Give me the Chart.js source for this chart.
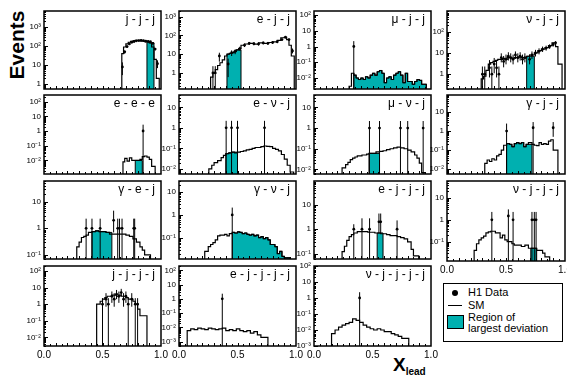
<!DOCTYPE html>
<html><head><meta charset="utf-8">
<script src="https://cdn.jsdelivr.net/npm/chart.js@4.4.0/dist/chart.umd.min.js"></script>
<style>
html,body{margin:0;padding:0;background:#fff;width:567px;height:381px;overflow:hidden;position:relative;font-family:"Liberation Sans",Arial,sans-serif;}
canvas{position:absolute;}
#ev{position:absolute;left:-18px;top:33px;width:70px;height:24px;line-height:24px;text-align:center;transform:rotate(-90deg);font:bold 21px "Liberation Sans",Arial,sans-serif;}
#xl{position:absolute;left:393px;top:354px;font:bold 19px "Liberation Sans",Arial,sans-serif;}
#xl sub{font-size:10px;vertical-align:-4px;}
#leg{position:absolute;left:443px;top:283px;width:118px;height:57px;border:1px solid #000;font:11px "Liberation Sans",Arial,sans-serif;}
#leg .t{position:absolute;left:24px;white-space:nowrap;}
</style></head><body>
<div id="ev">Events</div>
<div id="xl">X<sub>lead</sub></div>
<div id="leg">
  <div style="position:absolute;left:8px;top:6px;width:6px;height:6px;border-radius:50%;background:#000"></div>
  <div class="t" style="top:2px">H1 Data</div>
  <div style="position:absolute;left:4px;top:21px;width:14px;height:1px;background:#000"></div>
  <div class="t" style="top:15px">SM</div>
  <div style="position:absolute;left:3px;top:31px;width:15px;height:12px;border:1px solid #000;background:#00B0B0"></div>
  <div class="t" style="top:28px;line-height:11px">Region of<br>largest deviation</div>
</div>
<script>
// ---------- tick labels ----------
const yTickExp = [-3,-2,-1,0,1,2,3];
const yTickLabels = ['10⁻³','10⁻²','10⁻¹','1','10','10²','10³'];
const xTickVals = [0,0.5,1];
const xTickLabels = ['0.0','0.5','1.0'];

// ---------- j-j-j ----------
const jjj_edges = [0.665,0.68,0.70,0.72,0.74,0.76,0.78,0.80,0.82,0.84,0.86,0.88,0.90,0.92,0.94,0.96,0.975,0.985];
const jjj_sm = [2,40,90,130,160,180,190,200,200,190,180,170,175,150,90,20,2];
const jjj_region = [0.88,0.94];
const jjj_dx = [0.67,0.69,0.71,0.73,0.75,0.77,0.79,0.81,0.83,0.85,0.87,0.89,0.91,0.93,0.95,0.97];
const jjj_dy = [8,50,95,130,160,175,190,195,200,195,180,175,170,140,70,12];
const jjj_lo = [3,40,80,115,145,160,174,180,185,180,165,160,155,125,60,7];
const jjj_hi = [14,60,110,145,175,190,206,210,215,210,195,190,185,155,80,18];
const jjj_yrange = [0.56,7000];

// ---------- e-j-j ----------
const ejj_edges = [0.27,0.29,0.31,0.33,0.35,0.37,0.39,0.41,0.43,0.45,0.47,0.49,0.51,0.53,0.56,0.60,0.64,0.68,0.72,0.76,0.80,0.84,0.87,0.90,0.92,0.94,0.96,0.975,0.985];
const ejj_sm = [0.3,0.6,1,1.5,2.5,3.5,5,8,10,11,12,14,17,20,30,35,38,34,40,38,42,45,55,75,80,60,30,8];
const ejj_region = [0.41,0.53];
const ejj_dx = [0.29,0.31,0.345,0.42,0.45,0.48,0.52,0.56,0.60,0.64,0.68,0.72,0.76,0.80,0.84,0.88,0.91,0.94,0.97];
const ejj_dy = [1,1,8,3,12,14,20,30,38,36,35,40,38,42,46,60,80,60,15];
const ejj_lo = [0.05,0.05,4,0.6,8,10,15,24,31,30,29,33,31,35,39,52,71,52,11];
const ejj_hi = [2.3,2.3,12,5.8,16,18,25,36,45,42,41,47,45,49,53,68,89,68,20];
const ejj_yrange = [0.14,2000];

// ---------- mu-j-j ----------
const mjj_edges = [0.30,0.32,0.34,0.36,0.38,0.40,0.42,0.44,0.46,0.48,0.50,0.52,0.54,0.56,0.58,0.60,0.62,0.64,0.66,0.68,0.70,0.72,0.74,0.76,0.78,0.80,0.82,0.84,0.86,0.88,0.90,0.92,0.94,0.96];
const mjj_sm = [0.0024,0.003,0.02,0.015,0.01,0.008,0.01,0.008,0.012,0.01,0.015,0.02,0.015,0.025,0.03,0.02,0.005,0.01,0.012,0.008,0.015,0.02,0.025,0.015,0.005,0.02,0.006,0.006,0.004,0.006,0.008,0.007,0.004];
const mjj_region = [0.34,0.96];
const mjj_dx = [0.34];
const mjj_dy = [1];
const mjj_lo = [0.0001];
const mjj_hi = [2.2];
const mjj_yrange = [0.002,180];

// ---------- nu-j-j ----------
const njj_edges = [0.29,0.31,0.33,0.35,0.37,0.39,0.41,0.43,0.45,0.47,0.49,0.51,0.53,0.55,0.57,0.59,0.61,0.63,0.65,0.675,0.70,0.74,0.77,0.80,0.83,0.86,0.89,0.92,0.94,0.96,0.975];
const njj_sm = [0.4,0.6,0.8,1.5,3,3.5,4,4.5,5,5,5.5,5,6,6,5.5,6,6,6.5,6,6,7,8,10,13,15,18,22,30,20,3];
const njj_region = [0.675,0.74];
const njj_dx = [0.30,0.32,0.36,0.38,0.40,0.42,0.44,0.46,0.48,0.50,0.52,0.54,0.56,0.58,0.60,0.62,0.64,0.66,0.70,0.72,0.75,0.78,0.81,0.84,0.87,0.90,0.92];
const njj_dy = [1,1,2,1,3,2,1,6,4,5,7,6,5,8,6,7,5,6,5,8,10,12,15,17,20,25,30];
const njj_lo = [0.05,0.05,0.7,0.05,1.1,0.7,0.05,3.6,2.1,2.9,4.4,3.6,2.9,5.2,3.6,4.4,2.9,3.6,2.9,5.2,6.8,8.6,11.1,12.9,15.5,20,24.5];
const njj_hi = [2.3,2.3,4.6,2.3,5.8,4.6,2.3,9.6,7.2,8.4,10.8,9.6,8.4,11.8,9.6,10.8,8.4,9.6,8.4,11.8,14,16.5,20,22,25.6,31,36];
const njj_yrange = [0.2,950];

// ---------- e-e-e ----------
const eee_edges = [0.675,0.69,0.71,0.73,0.75,0.77,0.78,0.80,0.82,0.84,0.86,0.88,0.90,0.92,0.94,0.95];
const eee_sm = [0.003,0.008,0.014,0.009,0.015,0.01,0.01,0.01,0.01,0.012,0.018,0.02,0.017,0.012,0.004];
const eee_region = [0.78,0.84];
const eee_dx = [0.847];
const eee_dy = [1];
const eee_lo = [0.0001];
const eee_hi = [2.7];
const eee_yrange = [0.0012,280];

// ---------- e-nu-j ----------
const enj_edges = [0.255,0.28,0.30,0.33,0.36,0.38,0.40,0.425,0.45,0.475,0.50,0.525,0.55,0.575,0.60,0.625,0.65,0.675,0.70,0.725,0.75,0.775,0.80,0.825,0.85,0.875,0.90,0.925,0.95,0.965,0.98];
const enj_sm = [0.007,0.01,0.015,0.02,0.025,0.035,0.045,0.055,0.06,0.065,0.06,0.065,0.07,0.075,0.085,0.09,0.1,0.11,0.11,0.12,0.13,0.125,0.12,0.1,0.09,0.075,0.05,0.03,0.015,0.007];
const enj_region = [0.40,0.50];
const enj_dx = [0.403,0.449,0.50,0.731];
const enj_dy = [1,1,1,1];
const enj_lo = [0.0001,0.0001,0.0001,0.0001];
const enj_hi = [2.2,2.2,2.2,2.2];
const enj_yrange = [0.0056,40];

// ---------- mu-nu-j ----------
const mnj_edges = [0.24,0.27,0.29,0.31,0.33,0.35,0.37,0.39,0.41,0.43,0.45,0.47,0.50,0.53,0.56,0.59,0.62,0.65,0.68,0.71,0.74,0.77,0.80,0.83,0.86,0.88,0.90,0.92,0.935,0.95];
const mnj_sm = [0.007,0.012,0.017,0.022,0.03,0.035,0.04,0.045,0.045,0.05,0.05,0.055,0.06,0.06,0.07,0.075,0.08,0.09,0.1,0.11,0.12,0.11,0.1,0.085,0.07,0.05,0.035,0.02,0.007];
const mnj_region = [0.47,0.56];
const mnj_dx = [0.474,0.56,0.739,0.801,0.933];
const mnj_dy = [1,1,1,1,1];
const mnj_lo = [0.0001,0.0001,0.0001,0.0001,0.0001];
const mnj_hi = [2.2,2.2,2.2,2.2,2.2];
const mnj_yrange = [0.006,40];

// ---------- gamma-j-j ----------
const gjj_edges = [0.32,0.34,0.36,0.38,0.40,0.42,0.44,0.46,0.48,0.505,0.53,0.55,0.57,0.59,0.61,0.63,0.65,0.67,0.69,0.72,0.74,0.76,0.78,0.80,0.82,0.84,0.86,0.88,0.90,0.92,0.94];
const gjj_sm = [0.008,0.02,0.03,0.025,0.035,0.03,0.05,0.06,0.1,0.18,0.22,0.2,0.15,0.22,0.25,0.22,0.25,0.15,0.2,0.25,0.2,0.18,0.17,0.25,0.2,0.22,0.2,0.3,0.35,0.1];
const gjj_region = [0.505,0.72];
const gjj_dx = [0.505,0.73,0.90];
const gjj_dy = [1,1.5,1.5];
const gjj_lo = [0.0001,0.0001,0.5];
const gjj_hi = [2.5,3,3];
const gjj_yrange = [0.0055,80];

// ---------- gamma-e-j ----------
const gej_edges = [0.28,0.30,0.32,0.34,0.36,0.38,0.41,0.44,0.47,0.50,0.53,0.56,0.58,0.61,0.64,0.67,0.70,0.73,0.76,0.79,0.82,0.84,0.86,0.88,0.91];
const gej_sm = [0.1,0.2,0.3,0.45,0.5,0.55,0.7,0.75,0.8,0.75,0.75,0.7,0.6,0.6,0.6,0.6,0.6,0.55,0.5,0.4,0.3,0.2,0.15,0.1];
const gej_region = [0.41,0.58];
const gej_dx = [0.36,0.41,0.48,0.595,0.63,0.645,0.667,0.767,0.775];
const gej_dy = [1,1,1,2,1,1,1,1,1];
const gej_lo = [0.01,0.01,0.01,0.7,0.01,0.01,0.01,0.01,0.01];
const gej_hi = [2.3,2.3,2.3,4.6,2.3,2.3,2.3,2.3,2.3];
const gej_yrange = [0.07,60];

// ---------- gamma-nu-j ----------
const gnj_edges = [0.22,0.25,0.27,0.29,0.31,0.33,0.35,0.37,0.39,0.41,0.43,0.455,0.475,0.50,0.52,0.54,0.56,0.58,0.60,0.62,0.64,0.66,0.68,0.70,0.72,0.74,0.76,0.78,0.80,0.82,0.84,0.86,0.88,0.90,0.92,0.95];
const gnj_sm = [0.015,0.025,0.04,0.05,0.06,0.08,0.12,0.13,0.13,0.14,0.12,0.15,0.17,0.16,0.18,0.17,0.15,0.16,0.14,0.13,0.14,0.12,0.13,0.1,0.11,0.09,0.1,0.08,0.05,0.05,0.04,0.02,0.025,0.015,0.013];
const gnj_region = [0.455,0.95];
const gnj_dx = [0.455];
const gnj_dy = [1];
const gnj_lo = [0.001];
const gnj_hi = [2.1];
const gnj_yrange = [0.0115,31];

// ---------- e-j-j-j ----------
const e3j_edges = [0.24,0.26,0.28,0.30,0.32,0.34,0.37,0.40,0.43,0.46,0.49,0.52,0.54,0.57,0.59,0.62,0.65,0.68,0.71,0.74,0.77,0.80,0.83,0.85,0.87,0.895];
const e3j_sm = [0.07,0.12,0.2,0.35,0.5,0.6,0.7,0.8,0.8,0.8,0.75,0.75,0.7,0.7,0.65,0.65,0.6,0.55,0.55,0.5,0.45,0.4,0.3,0.15,0.08];
const e3j_region = [0.54,0.59];
const e3j_dx = [0.34,0.41,0.475,0.555,0.57,0.71];
const e3j_dy = [1,1,1,2,2,1];
const e3j_lo = [0.01,0.01,0.01,0.7,0.7,0.01];
const e3j_hi = [1.6,2.8,2.8,4.4,4.4,2.3];
const e3j_yrange = [0.06,95];

// ---------- nu-j-j-j ----------
const n3j_edges = [0.23,0.25,0.27,0.29,0.31,0.33,0.35,0.37,0.39,0.41,0.43,0.45,0.47,0.49,0.51,0.53,0.55,0.57,0.60,0.63,0.66,0.69,0.71,0.73,0.76,0.79,0.81,0.83,0.85,0.87];
const n3j_sm = [0.02,0.04,0.08,0.12,0.15,0.18,0.25,0.28,0.3,0.3,0.25,0.25,0.15,0.2,0.12,0.1,0.1,0.08,0.07,0.07,0.06,0.07,0.05,0.05,0.05,0.04,0.04,0.03,0.02];
const n3j_region = [0.71,0.76];
const n3j_dx = [0.38,0.52,0.56,0.72,0.74,0.755];
const n3j_dy = [1,1.5,1,1,1,1];
const n3j_lo = [0.001,0.001,0.001,0.001,0.001,0.001];
const n3j_hi = [2.3,3,2.3,2.3,2.3,2.3];
const n3j_yrange = [0.013,60];

// ---------- j-j-j-j ----------
const j4_edges = [0.45,0.48,0.50,0.52,0.54,0.56,0.58,0.60,0.62,0.64,0.66,0.68,0.70,0.72,0.74,0.76,0.78,0.80,0.82,0.85,0.88];
const j4_sm = [0.3,1,1.5,2,2.5,3,3,3.5,3.5,3,3.5,3,3,2.5,2,2,1.5,1,0.5,0.2];
const j4_region = [];
const j4_dx = [0.50,0.53,0.55,0.58,0.60,0.62,0.64,0.66,0.68,0.70,0.72,0.75,0.78,0.80];
const j4_dy = [1,2,1,3,2,4,3,5,2,3,1,2,1,1];
const j4_lo = [0.001,0.7,0.001,1.2,0.7,2,1.2,3,0.7,1.2,0.001,0.7,0.001,0.001];
const j4_hi = [2.3,4.6,2.3,5.8,4.6,7.2,5.8,8.4,4.6,5.8,2.3,4.6,2.3,2.3];
const j4_yrange = [0.003,200];

// ---------- e-j-j-j-j ----------
const e4j_edges = [0.07,0.10,0.13,0.16,0.19,0.22,0.25,0.28,0.31,0.34,0.37,0.40,0.43,0.46,0.49,0.52,0.55,0.58,0.61,0.64,0.67,0.70,0.73,0.76];
const e4j_sm = [0.004,0.006,0.008,0.007,0.009,0.008,0.007,0.009,0.008,0.007,0.008,0.009,0.006,0.007,0.006,0.008,0.006,0.005,0.006,0.004,0.005,0.003,0.002];
const e4j_region = [];
const e4j_dx = [0.37];
const e4j_dy = [1];
const e4j_lo = [0.00001];
const e4j_hi = [2.3];
const e4j_yrange = [0.0005,200];

// ---------- nu-j-j-j-j ----------
const n4j_edges = [0.15,0.18,0.21,0.24,0.27,0.30,0.33,0.36,0.39,0.42,0.45,0.48,0.51,0.54,0.57,0.60,0.63,0.66,0.69,0.72,0.75,0.78,0.81];
const n4j_sm = [0.003,0.006,0.01,0.015,0.02,0.025,0.03,0.05,0.04,0.03,0.02,0.015,0.012,0.01,0.012,0.01,0.008,0.008,0.006,0.005,0.004,0.003];
const n4j_region = [];
const n4j_dx = [0.39];
const n4j_dy = [1];
const n4j_lo = [0.00001];
const n4j_hi = [2.3];
const n4j_yrange = [0.001,100];

// ---------- layout (pixel frame of each grid cell) ----------
const COLS = [[44,161],[179,296],[314,431],[447,565]];
const ROWS = [[8,91],[92,176],[178,261],[263,346]];
const CYAN = '#00B0B0';

const panels = [
 {t:'j - j - j', c:0,r:0,e:jjj_edges,v:jjj_sm,reg:jjj_region,dx:jjj_dx,dy:jjj_dy,lo:jjj_lo,hi:jjj_hi,yr:jjj_yrange,xl:false},
 {t:'e - j - j', c:1,r:0,e:ejj_edges,v:ejj_sm,reg:ejj_region,dx:ejj_dx,dy:ejj_dy,lo:ejj_lo,hi:ejj_hi,yr:ejj_yrange,xl:false},
 {t:'μ - j - j', c:2,r:0,e:mjj_edges,v:mjj_sm,reg:mjj_region,dx:mjj_dx,dy:mjj_dy,lo:mjj_lo,hi:mjj_hi,yr:mjj_yrange,xl:false},
 {t:'ν - j - j', c:3,r:0,e:njj_edges,v:njj_sm,reg:njj_region,dx:njj_dx,dy:njj_dy,lo:njj_lo,hi:njj_hi,yr:njj_yrange,xl:false},
 {t:'e - e - e', c:0,r:1,e:eee_edges,v:eee_sm,reg:eee_region,dx:eee_dx,dy:eee_dy,lo:eee_lo,hi:eee_hi,yr:eee_yrange,xl:false},
 {t:'e - ν - j', c:1,r:1,e:enj_edges,v:enj_sm,reg:enj_region,dx:enj_dx,dy:enj_dy,lo:enj_lo,hi:enj_hi,yr:enj_yrange,xl:false},
 {t:'μ - ν - j', c:2,r:1,e:mnj_edges,v:mnj_sm,reg:mnj_region,dx:mnj_dx,dy:mnj_dy,lo:mnj_lo,hi:mnj_hi,yr:mnj_yrange,xl:false},
 {t:'γ - j - j', c:3,r:1,e:gjj_edges,v:gjj_sm,reg:gjj_region,dx:gjj_dx,dy:gjj_dy,lo:gjj_lo,hi:gjj_hi,yr:gjj_yrange,xl:false},
 {t:'γ - e - j', c:0,r:2,e:gej_edges,v:gej_sm,reg:gej_region,dx:gej_dx,dy:gej_dy,lo:gej_lo,hi:gej_hi,yr:gej_yrange,xl:false},
 {t:'γ - ν - j', c:1,r:2,e:gnj_edges,v:gnj_sm,reg:gnj_region,dx:gnj_dx,dy:gnj_dy,lo:gnj_lo,hi:gnj_hi,yr:gnj_yrange,xl:false},
 {t:'e - j - j - j', c:2,r:2,e:e3j_edges,v:e3j_sm,reg:e3j_region,dx:e3j_dx,dy:e3j_dy,lo:e3j_lo,hi:e3j_hi,yr:e3j_yrange,xl:false},
 {t:'ν - j - j - j', c:3,r:2,e:n3j_edges,v:n3j_sm,reg:n3j_region,dx:n3j_dx,dy:n3j_dy,lo:n3j_lo,hi:n3j_hi,yr:n3j_yrange,xl:true},
 {t:'j - j - j - j', c:0,r:3,e:j4_edges,v:j4_sm,reg:j4_region,dx:j4_dx,dy:j4_dy,lo:j4_lo,hi:j4_hi,yr:j4_yrange,xl:true},
 {t:'e - j - j - j - j', c:1,r:3,e:e4j_edges,v:e4j_sm,reg:e4j_region,dx:e4j_dx,dy:e4j_dy,lo:e4j_lo,hi:e4j_hi,yr:e4j_yrange,xl:true},
 {t:'ν - j - j - j - j', c:2,r:3,e:n4j_edges,v:n4j_sm,reg:n4j_region,dx:n4j_dx,dy:n4j_dy,lo:n4j_lo,hi:n4j_hi,yr:n4j_yrange,xl:true}
];

function histPts(edges, vals, floor, lo, hi){
  const pts = [];
  let started = false, lastI = -1;
  for (let i = 0; i < vals.length; i++) {
    const a = edges[i], b = edges[i+1];
    if (lo !== undefined && (a < lo - 1e-9 || b > hi + 1e-9)) continue;
    if (!started) { pts.push({x:a, y:floor}); started = true; }
    pts.push({x:a, y:vals[i]});
    lastI = i;
  }
  if (started) {
    pts.push({x:edges[lastI+1], y:vals[lastI]});
    pts.push({x:edges[lastI+1], y:floor});
  }
  return pts;
}

const framePlugin = {
  id:'frame',
  afterDraw(chart){
    const {ctx, chartArea:a, scales:{x,y}} = chart;
    const o = chart.options.plugins.frame;
    ctx.save();
    ctx.strokeStyle = '#000';
    ctx.lineWidth = 1;
    ctx.beginPath();
    for (let k = 1; k < 20; k++) {
      const px = Math.round(x.getPixelForValue(k/20)) + 0.5;
      const L = (k % 2 === 0) ? 3 : 2;
      ctx.moveTo(px, a.bottom); ctx.lineTo(px, a.bottom - L);
    }
    const e0 = Math.floor(Math.log10(y.min)), e1 = Math.ceil(Math.log10(y.max));
    for (let e = e0; e <= e1; e++) {
      for (let m = 1; m < 10; m++) {
        const v = m * Math.pow(10, e);
        if (v < y.min || v > y.max) continue;
        const py = Math.round(y.getPixelForValue(v)) + 0.5;
        const L = m === 1 ? 4 : 2;
        ctx.moveTo(a.left, py); ctx.lineTo(a.left + L, py);
      }
    }
    ctx.stroke();
    ctx.lineWidth = 1.5;
    ctx.strokeRect(a.left, a.top, a.right - a.left, a.bottom - a.top);
    ctx.fillStyle = '#000';
    ctx.font = '12px "Liberation Sans", Arial, sans-serif';
    ctx.textAlign = 'right';
    ctx.textBaseline = 'alphabetic';
    ctx.fillText(o.title, a.right - 6, a.top + 12);
    ctx.restore();
  }
};

function makePanel(p){
  const [L,R] = COLS[p.c], [T,B] = ROWS[p.r];
  const YW = 26, XH = p.xl ? 14 : 0, PADR = 10, PADT = 1, PADB = 2;
  const w = YW + (R - L) + PADR, h = PADT + (B - T) + XH + PADB;
  const cv = document.createElement('canvas');
  cv.width = w; cv.height = h;
  cv.style.width = w + 'px'; cv.style.height = h + 'px';
  cv.style.left = (L - YW) + 'px'; cv.style.top = (T - PADT) + 'px';
  document.body.appendChild(cv);
  const floor = p.yr[0] / 100;
  const dataPts = p.dx.map((x,i) => ({x, y:p.dy[i]}));
  const errPts = [];
  p.dx.forEach((x,i) => { errPts.push({x, y:p.lo[i]}); errPts.push({x, y:p.hi[i]}); errPts.push({x, y:null}); });
  const datasets = [
    {type:'scatter', data:dataPts, pointRadius:1.4, pointBackgroundColor:'#000', pointBorderWidth:0, showLine:false},
    {type:'line', data:errPts, borderColor:'#000', borderWidth:1, pointRadius:0, spanGaps:false, fill:false},
    {type:'line', data:histPts(p.e, p.v, floor), stepped:'after', borderColor:'#000', borderWidth:1.2, pointRadius:0, fill:false}
  ];
  if (p.reg.length === 2) {
    datasets.push({type:'line', data:histPts(p.e, p.v, floor, p.reg[0], p.reg[1]), stepped:'after',
      borderColor:'#000', borderWidth:1, pointRadius:0, fill:'start', backgroundColor:CYAN});
  }
  const yTicks = [];
  yTickExp.forEach((ex, i) => { const v = Math.pow(10, ex); if (v >= p.yr[0] && v <= p.yr[1]) yTicks.push({value:v, label:yTickLabels[i]}); });
  new Chart(cv, {
    type:'line',
    data:{datasets},
    options:{
      responsive:false, animation:false, devicePixelRatio:1,
      layout:{padding:{left:0, top:PADT, right:PADR, bottom:PADB}},
      plugins:{legend:{display:false}, tooltip:{enabled:false}, frame:{title:p.t}},
      scales:{
        x:{type:'linear', min:0, max:1, display:p.xl,
           grid:{display:false, drawTicks:false}, border:{display:false},
           ticks:{color:'#000', font:{size:10, family:'"Liberation Sans", Arial, sans-serif'}, padding:3, maxRotation:0,
                  callback:(v) => { const i = xTickVals.indexOf(v); return i >= 0 ? xTickLabels[i] : ''; }},
           afterBuildTicks:(s) => { s.ticks = xTickVals.map(v => ({value:v})); },
           afterFit:(s) => { s.height = XH; s.paddingLeft = 0; s.paddingRight = 0; }},
        y:{type:'logarithmic', min:p.yr[0], max:p.yr[1],
           grid:{display:false, drawTicks:false}, border:{display:false},
           ticks:{color:'#000', font:{size:8, family:'"Liberation Sans", Arial, sans-serif'}, padding:3, autoSkip:false,
                  callback:(v) => { const t = yTicks.find(tt => Math.abs(tt.value - v) < tt.value * 1e-6); return t ? t.label : ''; }},
           afterBuildTicks:(s) => { s.ticks = yTicks.map(t => ({value:t.value})); },
           afterFit:(s) => { s.width = YW; s.paddingTop = 0; s.paddingBottom = 0; }}
      }
    },
    plugins:[framePlugin]
  });
}
panels.forEach(makePanel);
</script>
</body></html>
